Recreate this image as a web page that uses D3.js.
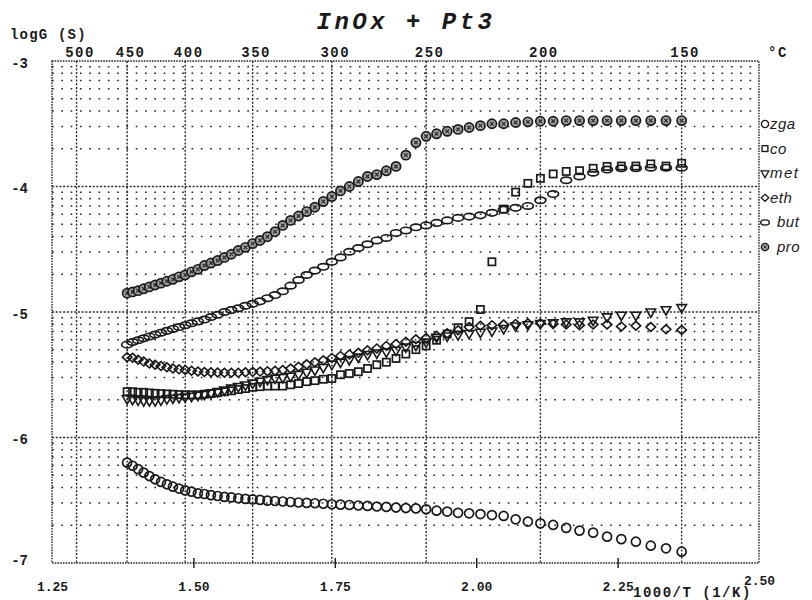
<!DOCTYPE html>
<html>
<head>
<meta charset="utf-8">
<script src="https://cdn.jsdelivr.net/npm/d3@7/dist/d3.min.js"></script>
<style>
body { margin: 0; background: #fff; }
svg { display: block; background: #fff; }
.lab { font-family: "Liberation Mono", "DejaVu Sans Mono", monospace; font-weight: bold; fill: #1a1a1a; }
.leg { font-family: "Liberation Sans", Arial, sans-serif; font-style: italic; font-size: 15px; fill: #1a1a1a; }
</style>
</head>
<body>
<div id="chart"></div>
<script>
/* global d3 */

// measuring temperatures (°C), one point every 5 degrees
const TEMPS = [450,445,440,435,430,425,420,415,410,405,400,395,390,385,380,375,370,365,360,355,
  350,345,340,335,330,325,320,315,310,305,300,295,290,285,280,275,270,265,260,255,
  250,245,240,235,230,225,220,215,210,205,200,195,190,185,180,175,170,165,160,155,150];

// logG per gas, same order as TEMPS
const ZGA = [-6.20,-6.225,-6.252,-6.28,-6.307,-6.333,-6.354,-6.373,-6.392,-6.407,
  -6.422,-6.432,-6.445,-6.45,-6.459,-6.466,-6.473,-6.477,-6.484,-6.489,
  -6.493,-6.497,-6.503,-6.506,-6.51,-6.514,-6.518,-6.521,-6.524,-6.528,
  -6.532,-6.535,-6.538,-6.542,-6.545,-6.55,-6.553,-6.558,-6.562,-6.565,
  -6.572,-6.583,-6.59,-6.60,-6.604,-6.61,-6.618,-6.625,-6.652,-6.67,
  -6.684,-6.697,-6.72,-6.742,-6.758,-6.79,-6.81,-6.83,-6.862,-6.883,-6.91];
const CO = [-5.635,-5.635,-5.64,-5.64,-5.645,-5.648,-5.65,-5.653,-5.655,-5.658,
  -5.66,-5.66,-5.66,-5.655,-5.65,-5.643,-5.635,-5.628,-5.618,-5.61,
  -5.60,-5.595,-5.59,-5.59,-5.59,-5.58,-5.57,-5.555,-5.547,-5.536,
  -5.53,-5.50,-5.49,-5.476,-5.45,-5.42,-5.40,-5.37,-5.335,-5.30,
  -5.27,-5.225,-5.175,-5.125,-5.077,-4.98,-4.60,-4.18,-4.045,-3.975,
  -3.935,-3.90,-3.88,-3.874,-3.855,-3.84,-3.837,-3.837,-3.82,-3.837,-3.815];
const MET = [-5.69,-5.695,-5.70,-5.705,-5.705,-5.705,-5.70,-5.69,-5.685,-5.68,
  -5.675,-5.67,-5.662,-5.655,-5.645,-5.633,-5.62,-5.605,-5.592,-5.58,
  -5.565,-5.55,-5.537,-5.525,-5.52,-5.51,-5.495,-5.478,-5.46,-5.44,
  -5.415,-5.398,-5.378,-5.358,-5.337,-5.325,-5.316,-5.303,-5.278,-5.263,
  -5.237,-5.20,-5.19,-5.18,-5.17,-5.16,-5.15,-5.13,-5.11,-5.10,
  -5.09,-5.085,-5.077,-5.077,-5.064,-5.037,-5.024,-5.024,-4.998,-4.98,-4.963];
const ETH = [-5.36,-5.365,-5.38,-5.395,-5.41,-5.42,-5.43,-5.44,-5.45,-5.457,
  -5.462,-5.468,-5.474,-5.478,-5.48,-5.482,-5.484,-5.484,-5.484,-5.48,
  -5.477,-5.475,-5.472,-5.468,-5.462,-5.45,-5.436,-5.417,-5.40,-5.385,
  -5.366,-5.35,-5.338,-5.325,-5.305,-5.29,-5.27,-5.255,-5.237,-5.218,
  -5.208,-5.19,-5.17,-5.145,-5.12,-5.11,-5.105,-5.10,-5.095,-5.09,
  -5.09,-5.095,-5.10,-5.105,-5.10,-5.10,-5.115,-5.11,-5.12,-5.138,-5.143];
const BUT = [-5.26,-5.24,-5.225,-5.21,-5.195,-5.18,-5.165,-5.15,-5.135,-5.12,
  -5.105,-5.09,-5.075,-5.06,-5.04,-5.022,-5.00,-4.985,-4.97,-4.95,
  -4.935,-4.915,-4.89,-4.865,-4.835,-4.79,-4.745,-4.705,-4.67,-4.64,
  -4.60,-4.565,-4.52,-4.49,-4.46,-4.43,-4.41,-4.37,-4.35,-4.325,
  -4.31,-4.29,-4.27,-4.25,-4.24,-4.23,-4.21,-4.185,-4.17,-4.155,
  -4.11,-4.06,-3.95,-3.92,-3.89,-3.865,-3.855,-3.855,-3.85,-3.85,-3.85];
const PRO = [-4.85,-4.84,-4.83,-4.815,-4.80,-4.785,-4.77,-4.755,-4.74,-4.72,
  -4.705,-4.68,-4.66,-4.63,-4.61,-4.59,-4.565,-4.54,-4.51,-4.485,
  -4.455,-4.43,-4.40,-4.36,-4.31,-4.27,-4.235,-4.20,-4.165,-4.12,
  -4.08,-4.035,-4.0,-3.96,-3.92,-3.905,-3.875,-3.84,-3.75,-3.65,
  -3.60,-3.58,-3.56,-3.545,-3.53,-3.515,-3.50,-3.50,-3.49,-3.485,
  -3.48,-3.48,-3.475,-3.475,-3.475,-3.475,-3.475,-3.475,-3.475,-3.475,-3.475];

const NAMES = ["zga","co","met","eth","but","pro"];
const SERIES = [ZGA, CO, MET, ETH, BUT, PRO];

const X_TICKS = [1.25, 1.50, 1.75, 2.00, 2.25, 2.50];
const Y_TICKS = [-3, -4, -5, -6, -7];
const TOP_TICKS = [500, 450, 400, 350, 300, 250, 200, 150];

const W = 812, H = 600;
const INK = "#1a1a1a";

function invT(t) { return 1000 / (t + 273.15); }

var svg = d3.select("#chart").append("svg").attr("width", W).attr("height", H);

var x = d3.scaleLinear().domain([1.25, 2.50]).range([52, 759]);
var y = d3.scaleLinear().domain([-7, -3]).range([563, 61]);

// GRID
var grid = svg.append("g").attr("stroke", "#2a2a2a").attr("fill", "none");

// minor log lines (2..9 inside each decade)
var minor = [];
for (var d = -7; d < -3; d++)
  for (var k = 2; k <= 9; k++) minor.push(d + Math.log10(k));

grid.selectAll(".minor").data(minor).enter().append("line")
  .attr("x1", x(1.25)).attr("x2", x(2.5))
  .attr("y1", d => y(d)).attr("y2", d => y(d))
  .attr("stroke-width", 1.5).attr("stroke-dasharray", "1.7,7.6");

grid.selectAll(".major").data([-4, -5, -6]).enter().append("line")
  .attr("x1", x(1.25)).attr("x2", x(2.5))
  .attr("y1", d => y(d)).attr("y2", d => y(d))
  .attr("stroke-width", 1.4).attr("stroke-dasharray", "2,1.7");

grid.selectAll(".vt").data(TOP_TICKS).enter().append("line")
  .attr("x1", d => x(invT(d))).attr("x2", d => x(invT(d)))
  .attr("y1", y(-3)).attr("y2", y(-7))
  .attr("stroke-width", 1.4).attr("stroke-dasharray", "2,1.7");

grid.append("rect")
  .attr("x", x(1.25)).attr("y", y(-3))
  .attr("width", x(2.5) - x(1.25)).attr("height", y(-7) - y(-3))
  .attr("stroke-width", 1.4).attr("stroke-dasharray", "1.6,1.1");

// AXES
var xAxis = d3.axisBottom(x).tickValues(X_TICKS).tickFormat(d3.format(".2f")).tickSize(5).tickPadding(14);
var gx = svg.append("g").attr("transform", "translate(0," + y(-7) + ")").call(xAxis);
gx.select(".domain").remove();
gx.selectAll(".tick line").attr("y1", -5).attr("stroke", INK).attr("stroke-width", 1.4)
  .attr("opacity", (d, i) => (i == 0 || i == X_TICKS.length - 1) ? 0 : 1);
gx.selectAll(".tick text").attr("class", "lab").attr("font-size", 13).attr("fill", INK)
  .attr("dy", d => d == 2.5 ? "0.2em" : "0.71em");

var yAxis = d3.axisLeft(y).tickValues(Y_TICKS).tickFormat(d => "-" + Math.abs(d)).tickSize(0).tickPadding(3);
var gy = svg.append("g").attr("transform", "translate(31,0)").call(yAxis);
gy.select(".domain").remove();
gy.selectAll(".tick text").attr("class", "lab").attr("font-size", 14).attr("fill", INK)
  .attr("dy", d => d == -7 ? "0.1em" : "0.45em");

var topAxis = d3.axisTop(x).tickValues(TOP_TICKS.map(invT))
  .tickFormat(v => Math.round(1000 / v - 273.15)).tickSize(0).tickPadding(4);
var gt = svg.append("g").attr("transform", "translate(0," + y(-3) + ")").call(topAxis);
gt.select(".domain").remove();
gt.selectAll(".tick text").attr("class", "lab").attr("font-size", 14)
  .attr("letter-spacing", 1.5).attr("dx", 3).attr("fill", INK);

svg.append("text").attr("class", "lab").attr("font-size", 14).attr("letter-spacing", 1.5)
  .attr("x", 768).attr("y", 57).text("°C");

svg.append("text").attr("class", "lab").attr("font-size", 14).attr("letter-spacing", 1.2)
  .attr("x", 10).attr("y", 39).text("logG (S)");

svg.append("text").attr("class", "lab").attr("font-size", 14).attr("letter-spacing", 1.5)
  .attr("x", 633).attr("y", 597).text("1000/T (1/K)");

svg.append("text").attr("class", "lab").attr("font-size", 24).attr("letter-spacing", 3.5)
  .attr("font-style", "italic").attr("text-anchor", "middle")
  .attr("x", 406).attr("y", 29).text("InOx + Pt3");

// SYMBOLS
function drawSymbol(g, name) {
  if (name == "zga") {
    g.append("circle").attr("r", 4.5).attr("fill", "none").attr("stroke", INK).attr("stroke-width", 1.7);
  } else if (name == "co") {
    g.append("rect").attr("x", -3.6).attr("y", -3.6).attr("width", 7.2).attr("height", 7.2)
      .attr("fill", "none").attr("stroke", INK).attr("stroke-width", 1.7);
  } else if (name == "met") {
    g.append("path").attr("d", d3.symbol(d3.symbolTriangle, 40)()).attr("transform", "rotate(180)")
      .attr("fill", "none").attr("stroke", INK).attr("stroke-width", 1.6);
  } else if (name == "eth") {
    g.append("path").attr("d", "M0,-4.4L4.8,0L0,4.4L-4.8,0Z")
      .attr("fill", "none").attr("stroke", INK).attr("stroke-width", 1.6);
  } else if (name == "but") {
    g.append("ellipse").attr("rx", 5.4).attr("ry", 3.2)
      .attr("fill", "none").attr("stroke", INK).attr("stroke-width", 1.7);
  } else if (name == "pro") {
    g.append("circle").attr("r", 4.6).attr("fill", "#a2a2a2").attr("stroke", INK).attr("stroke-width", 1.7);
    g.append("path").attr("d", "M-1.8,-1.8L1.8,1.8M-1.8,1.8L1.8,-1.8")
      .attr("stroke", "#2a2a2a").attr("stroke-width", 1.2);
  }
}

var plot = svg.append("g");
NAMES.forEach(function(name, s) {
  var pts = plot.append("g").attr("class", "series-" + name)
    .selectAll("g").data(SERIES[s]).enter().append("g")
    .attr("transform", (v, i) => "translate(" + x(invT(TEMPS[i])) + "," + y(v) + ")");
  pts.each(function() { drawSymbol(d3.select(this), name); });
});

// LEGEND
var leg = svg.append("g").selectAll("g").data(NAMES).enter().append("g")
  .attr("transform", (d, i) => "translate(765," + (124 + i * 24.6) + ")");
leg.each(function(d) { drawSymbol(d3.select(this).attr("class", "key"), d); });
leg.selectAll("circle,rect,path,ellipse").attr("transform", function() {
  var t = d3.select(this).attr("transform");
  return (t ? t + " " : "") + "scale(0.8)";
});
leg.append("text").attr("class", "leg")
  .attr("x", d => (d == "but" || d == "pro") ? 12 : 5).attr("y", 5)
  .attr("letter-spacing", d => d == "met" ? 1.5 : 0.5)
  .text(d => d);
</script>
</body>
</html>
